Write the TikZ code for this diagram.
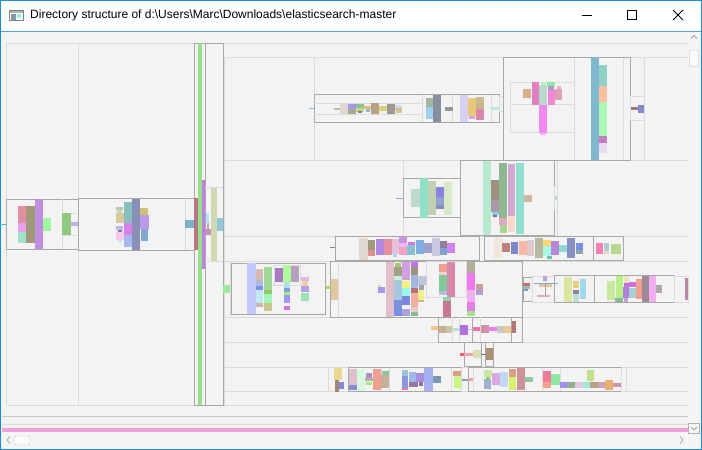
\documentclass[tikz,border=0pt]{standalone}
\usepackage{fontspec}
\setmainfont{Liberation Sans}
\definecolor{boxgray}{HTML}{A8A8A8}
\definecolor{linegray}{HTML}{DCDCDC}
\definecolor{winblue}{HTML}{1C8AD6}
\definecolor{clientbg}{HTML}{F3F3F3}
\definecolor{pinkbar}{HTML}{F0A0DC}
\begin{document}
\begin{tikzpicture}[
    x=1pt, y=-1pt,
    frame/.style={draw=boxgray, line width=1pt},
    faint/.style={draw=linegray, line width=0.8pt},
    glyph/.style={draw=black, line width=0.9pt}
]
\useasboundingbox (0,0) rectangle (702,450);

% Window
\fill[clientbg] (0,0) rectangle (702,450);
\fill[white] (0,0) rectangle (702,30.5);
\draw[winblue, line width=1pt] (0.5,0.5) rectangle (701.5,449.5);
\draw[winblue!80, line width=1pt] (1,31) -- (701,31);

% Title bar
\draw[gray, fill=white] (9.5,10.5) rectangle (23.5,20.5);
\fill[gray!60] (10,11) rectangle (23,13);
\fill[black!70!cyan!60] (11,13.5) rectangle (16,19.5);
\fill[green!45!cyan!45] (17,13.5) rectangle (21,18);
\node[anchor=west, font=\fontsize{12}{14}\selectfont, inner sep=0pt] (title) at (30,15.5)
  {Directory structure of d:\textbackslash Users\textbackslash Marc\textbackslash Downloads\textbackslash elasticsearch-master};
\draw[glyph] (582,15.5) -- (592,15.5);
\draw[glyph] (627.5,10.5) rectangle (636.5,19.5);
\draw[glyph] (673,10) -- (683,20) (683,10) -- (673,20);

% Scrollbars
\fill[gray!8] (688,32) rectangle (701,432);
\fill[gray!8] (1,432) rectangle (701,448);
\draw[gray!70, line width=0.8pt] (691,38.5) -- (694,35.5) -- (697,38.5);
\draw[gray!55, fill=gray!3, rounded corners=2pt] (689.5,50) rectangle (698.5,66.5);
\draw[gray!60] (688.5,423.5) rectangle (699.5,433.5);
\draw[gray!70, line width=0.8pt] (691,427) -- (694,430) -- (697,427);
\draw[gray!70, line width=0.8pt] (10,436.5) -- (7,440) -- (10,443.5);
\draw[gray!55, fill=gray!3, rounded corners=2pt] (14,436) rectangle (30,445);
\draw[gray!70, line width=0.8pt] (680,436.5) -- (683,440) -- (680,443.5);

% Bottom strips
\draw[gray!45, line width=1.2pt] (2,416.7) -- (688,416.7);
\draw[linegray] (2,424.3) -- (688,424.3);
\fill[pinkbar] (2,427.8) rectangle (688,431.8);

% Grid lines
\draw[faint] (6.5,43) -- (688,43);
\draw[faint] (6.5,43) -- (6.5,405) (78,43) -- (78,405) (6.5,405) -- (688,405);
\draw[faint] (224,57) -- (224,405);
\foreach \yy in {57,160,236,261,317,342,367,391}
  \draw[faint] (224,\yy) -- (688,\yy);
\draw[faint] (314.3,57) -- (314.3,160) (574.3,57) -- (574.3,160)
  (623.3,57) -- (623.3,160) (644.3,57) -- (644.3,160);
\draw[faint] (403.3,160) -- (403.3,236) (557,160) -- (557,236);

% Boxes
\draw[frame] (194,43) rectangle (205,405);
\draw[frame] (205,43) rectangle (223,405);
\draw[faint] (205,187.3) -- (223,187.3) (205,261.5) -- (223,261.5);
\draw[frame] (6.7,199.3) rectangle (78.3,249.3);
\draw[faint] (62.3,199.3) -- (62.3,249.3);
\draw[faint] (62.3,213) rectangle (78.3,235);
\draw[frame] (78.3,198.3) rectangle (194,250);
\draw[faint] (185.3,198.3) -- (185.3,250);
\draw[frame] (314.3,94.3) rectangle (499.3,122);
\draw[faint] (314.3,103.3) -- (422.3,103.3) (314.3,114) -- (422.3,114);
\foreach \xx in {422.3,452.3,491.3}
  \draw[faint] (\xx,94.8) -- (\xx,121.5);
\draw[faint] (499.3,96) rectangle (503.3,111.7);
\draw[frame] (503.3,57.3) rectangle (630.3,160);
\draw[faint] (510.3,82.3) rectangle (574.3,132.3);
\draw[faint] (510.3,104) -- (574.3,104);
\draw[faint] (630.3,96) rectangle (644.3,120);
\draw[frame] (403.3,178.3) rectangle (460.3,217.7);
\draw[frame] (460.3,160) rectangle (554.3,235.3);
\draw[faint] (554.3,186) rectangle (557,210);
\draw[frame] (335.3,236.3) rectangle (479.3,260);
\draw[frame] (484.3,236.3) rectangle (593.3,260);
\draw[frame] (593.3,236.3) rectangle (623.3,260);
\draw[faint] (230,261) rectangle (330,317);
\draw[frame] (231,263.7) rectangle (325.7,314.3);
\draw[faint] (274,265) rectangle (300,285);
\draw[frame] (330.3,261) rectangle (522.7,317.3);
\draw[faint] (338.3,261) -- (338.3,317.3);
\draw[faint] (426.7,261.7) rectangle (466.7,297.3);
\draw[frame] (523.3,277.3) rectangle (532.7,301.3);
\draw[faint] (532.7,276) rectangle (554.3,302);
\draw[frame] (554.3,275.3) rectangle (594.3,302.3);
\draw[frame] (594.3,275.3) rectangle (674.7,302.3);
\draw[faint] (674.7,276) rectangle (688,302);
\draw[frame] (438.3,317.3) rectangle (472.3,342.3);
\draw[faint] (452.7,317.3) -- (452.7,342.3) (459.3,317.3) -- (459.3,342.3);
\draw[frame] (472.3,317.3) rectangle (511.3,342.3);
\draw[faint] (480,317.3) -- (480,342.3);
\draw[frame] (511.3,317.3) rectangle (522.7,342.3);
\draw[frame] (464,342.3) rectangle (481.7,366.7);
\draw[frame] (485.3,342.3) rectangle (493.7,366.7);
\draw[faint] (328.3,367.3) rectangle (348.3,391.7);
\draw[frame] (348.3,367.3) rectangle (461.7,391.7);
\foreach \xx in {381.7,389.3,451.7}
  \draw[faint] (\xx,367.8) -- (\xx,391.2);
\draw[faint] (461.7,367.3) rectangle (468.3,391.7);
\draw[frame] (468.3,367.3) rectangle (621.7,391.7);
\draw[faint] (621.7,367.3) rectangle (626,391.7);
\foreach \xx in {473.3,542.7,560}
  \draw[faint] (\xx,367.8) -- (\xx,391.2);

% Left blocks and stripes
\foreach \xa/\ya/\xb/\yb/\hex in {
  0/223.5/6/224.5/40C0D0, 18/206/26/223/E090A0, 18/223/26/232/E8A0F0,
  18/232/26/243/A0E0C8, 26/206/35/243/A09878, 35/199/43/249/C090E0,
  43/218/51/231/A0F8A0, 62/213/71/235/90C880, 71/222/78/226/C0B0E0,
  116/207/123/210/C8C0B8, 117/210/122/213/B0E8A0, 116/213/124/223/D8C8A0,
  116/226/123/230/C0B8E0, 118/230/122/233/9070C0, 116/232/124/240/F8C8E8,
  118/240/122/242/C0E8F0, 124/202/132/223/88C0C0, 124/223/132/235/D880E8,
  124/235/132/247/A8B8F0, 132/199/140/250/8890B8, 140/208/148/215/D0C078,
  140/215/149/229/C098E8, 141/229/148/241/80A8D0, 185/220/194/228/80B0C8,
  194/198/198/250/B07880, 198/43/202/405/98E088, 202/180/205/269/C07EE8,
  206/213/209/223/B0E8F8, 207/223/209/230/C8A890, 205/229/211/235/C090C0,
  211/188/217/261/D0D8B0, 217/218/223/231/90C8D8}
  {\definecolor{barcol}{HTML}{\hex}\fill[barcol] (\xa,\ya) rectangle (\xb,\yb);}

% Top row
\foreach \xa/\ya/\xb/\yb/\hex in {
  309/107.5/314/108.5/80B0E0, 334/108/340/110/B8C098, 340/103/348/114/E0D8D0,
  348/104/356/109/A898E8, 348/109/356/114/A8A890, 356/104/364/108/90C090,
  356/108/364/112/C8D890, 358/111/362/113/907090, 364/106/371/109/E8B888,
  366/109/370/112/80C0D0, 371/103/379/114/B8A080, 379/106/387/111/D8D078,
  387/104/395/114/A09890, 395/105/402/108/C8E0E8, 395/108/402/110/E8B0A0,
  396/110/402/113/D0C890, 426/98/433/107/A0B8A0, 426/107/433/119/A0D0F0,
  433/95/441/122/8890A0, 445/107/453/111/909898, 460/95/468/122/D8D0F0,
  468/98/476/116/E8C878, 469/116/475/119/D0A8E0, 476/97/484/109/C8B890,
  476/109/484/120/D888A8, 491/107/499/110/B8E8E0,
  523/89/531/98/D8B088, 532/82/539/105/E080C0, 539/85/547/105/B8D8C8,
  541/82/546/85/B8F0D0, 539/105/547/133/F088F0, 540/133/546/135/F8B0F8,
  547/82/555/86/90E8A8, 548/86/554/90/A898C8, 548/90/555/105/F088D8,
  555/89/562/100/E0A0B8, 557/86/561/89/E8B0C0, 591/57/599/160/80B8D0,
  599/65/607/86/90D0C8, 599/86/607/102/F8C0A0, 599/102/607/136/A8F8B8,
  599/136/607/143/C080C0, 599/143/607/153/E8D8F0, 631/107/639/110/A07888,
  638/105/644/113/8888D0}
  {\definecolor{barcol}{HTML}{\hex}\fill[barcol] (\xa,\ya) rectangle (\xb,\yb);}

% Middle row
\foreach \xa/\ya/\xb/\yb/\hex in {
  396/197.5/403/198.5/A0A0F0, 411/189/420/207/C0D8D0, 420/178/428/218/90E0C8,
  428/181/436/215/C0D0B0, 436/187/444/197/8880E0, 436/197/444/205/90A0D0,
  436/205/444/209/8890B8, 444/182/452/215/D8E8C8, 483/161/491/235/B8E8D0,
  491/180/499/200/A09080, 491/200/499/212/A898A8, 492/212/499/215/90C8E8,
  493/215/497/217/707070, 499/163/507/218/90B890, 499/218/507/225/E0A8C0,
  500/225/507/233/A8D890, 508/164/515/216/D0A8D0, 508/216/515/232/F8D8C8,
  516/163/524/234/90E0D0, 524/195/532/202/D0B8A0, 555/196/557/200/A8E0C8,
  330/246.5/335/247.5/B070A0, 359/238/368/260/E0D8D0, 368/240/375/250/A09878,
  368/250/375/256/E09090, 376/239/384/255/B088E0, 384/239/392/255/E090A0,
  392/239/399/254/E8C0D8, 393/254/397/257/A8D0F8, 399/237/407/243/C890E0,
  399/243/407/247/E8B8F0, 399/247/407/255/F8A0C8, 408/242/415/245/E070E8,
  407/245/415/255/88C0D0, 416/240/424/254/80B0E0, 424/243/432/253/A0A0D0,
  432/238/440/256/C8C8E0, 440/241/447/248/908098, 440/248/447/255/80A0D0,
  447/243/455/253/D080F0, 494/238/502/258/F0E8D8, 502/243/510/252/C08080,
  511/242/518/254/7888C8, 519/241/527/255/F8B8A8, 527/240/534/256/E0C8D0,
  535/238/543/258/B8B8A0, 543/240/551/246/F8D870, 543/246/551/256/A8F8E8,
  547/256/552/259/70C0B0, 551/241/559/255/B888D8, 559/245/567/252/90D8D0,
  567/238/575/258/8890C8, 576/243/583/250/7890E0, 576/250/583/254/88A8A8,
  596/243/603/254/F080B0, 604/243/609/251/B0C8D8, 604/251/609/254/E8D8C0,
  611/244/621/254/B8D890}
  {\definecolor{barcol}{HTML}{\hex}\fill[barcol] (\xa,\ya) rectangle (\xb,\yb);}

% Lower row
\foreach \xa/\ya/\xb/\yb/\hex in {
  223/285/230/293/A0E8A0, 247/263/256/314/C0C8F8, 256/269/263/280/D8B8B0,
  256/280/263/286/B0B8D8, 256/286/263/290/7890F0, 256/290/263/303/C0E8F0,
  256/303/263/307/D0B0B0, 264/267/272/290/A0D898, 264/290/272/294/90C870,
  264/294/272/303/A0F8B8, 264/303/272/311/C8C890, 275/268/283/282/A878C0,
  283/265/291/283/B0F8A0, 284/283/290/288/B0E0F0, 284/288/290/292/80A0E0,
  284/292/290/295/A0F080, 284/295/290/303/A098F0, 284/306/290/310/D870E8,
  291/266/299/282/B8A0C0, 301/277/309/281/E0B8E8, 302/281/308/286/F0D0A0,
  301/286/309/292/B0A0E8, 301/293/309/301/A0E0B8, 326/286/331/289/A8D870,
  331/279/338/300/E0C8A0, 378/287/385/293/A898F0, 378/285/381/287/C8E890,
  386/262/394/317/E0C0C8, 395/263/401/267/A8C870, 394/267/402/276/A0A088,
  394/276/402/280/C8F0D8, 394/280/402/300/A8C8E0, 394/300/402/316/7890E0,
  402/262/410/280/D0A0E0, 402/281/410/288/F0F080, 402/288/410/296/98F8F0,
  402/296/410/305/7888E0, 402/309/410/316/B0A0E0, 411/262/418/267/C070F0,
  411/267/418/275/A09080, 411/275/418/288/A0B8E0, 411/288/418/293/B87070,
  411/293/418/307/F0B0A0, 411/307/418/312/E8C8D8, 411/312/418/316/80C080,
  418/276/427/285/C0C8D8, 419/285/424/290/A0A0B8, 418/290/424/300/F0F088,
  418/300/424/302/D0B888, 439/264/447/272/F0A090, 439/272/447/275/F0D0D8,
  439/275/447/291/80C898, 439/291/447/295/B8B8E0, 447/262/455/297/D888A8,
  443/297/451/301/88D8B0, 443/301/451/317/C87890, 467/262/475/273/B0B098,
  467/273/475/290/F078F0, 467/290/475/302/F0B0F0, 467/302/475/311/E080E0,
  467/311/475/316/A8E090, 476/284/483/290/C8A0A0, 476/290/483/295/A8A0D8,
  523/283/530/286/C87070, 523/286/530/289/90B8C0, 523/289/528/291/78A0A0,
  539/284/552/287/E8C898, 534/282.5/558/283.5/80B0D0, 544.5/283/545.5/296/A0A0A0,
  537/295/550/297/E0A8C8, 543/276/547/281/B8A0E0, 564/277/572/302/D8E8A0,
  573/281/579/288/E8D080, 573/290/579/294/9880A0, 573/294/579/302/B8E0D0,
  580/279/586/299/A0D8F0, 607/281/615/300/C8E8A0, 616/276/623/298/B8F088,
  615/298/623/302/88B8A0, 624/276/629/285/F0E0C0, 624/283/630/287/C070E0,
  623/287/629/298/B080D8, 624/298/628/302/C0A0D0, 629/282/636/287/D070E0,
  629/288/637/298/A8D0D0, 636/279/642/299/F0A090, 642/276/649/302/A08898,
  649/276/656/302/F0B0F0, 656/285/662/293/B0A8A8, 685/278/688/300/B888A8}
  {\definecolor{barcol}{HTML}{\hex}\fill[barcol] (\xa,\ya) rectangle (\xb,\yb);}

% Bottom rows
\foreach \xa/\ya/\xb/\yb/\hex in {
  431/326/438/330/F8C090, 439/326/446/333/C8B090, 446/326/452/333/C8C8A8,
  453/328/460/331/A8E8C8, 460/325/468/335/B070E0, 468/329/473/330/A8D8B0,
  473/327/480/331/F070B0, 481/325/489/333/D090A8, 489/327/497/331/F080F0,
  497/326/504/333/C8C8C0, 504/326/511/333/F0C898, 512/321/516/333/B07878,
  460/353/464/356/F06070, 464/353/473/356/F0A0A8, 473/350/481/358/D8E0B0,
  481/354/486/355/6080C0, 486/348/493/360/A89070,
  334/368/342/380/E8D890, 335/380/339/392/A08878, 339/382/344/389/8888D8,
  349/369/357/385/E0C0C8, 349/385/357/390/8090D0, 357/369/365/391/D8F8E0,
  366/373/372/380/B090C0, 365/378/373/381/C0A8B0, 366/382/372/385/A8F070,
  373/369/381/390/F0A090, 382/371/389/375/88C8A0, 381/375/389/388/C8B098,
  402/370/408/376/A0C0D0, 402/376/408/388/8898D8, 402/388/408/390/F070B0,
  409/372/416/382/A0B8E8, 409/382/418/387/9878A0, 416/373/424/382/A890E0,
  419/382/423/386/907098, 424/368/433/391/A8B0F0, 433/376/441/383/7898B0,
  453/371/461/376/D8A080, 454/376/461/388/C8F880, 462/379/468/381/8898C0,
  468/378/473/381/E8A8A8, 484/370/492/377/C8E8A0, 486/377/490/380/88D860,
  484/379/491/389/A0B0D0, 492/373/500/385/D8A8E0, 500/372/508/387/C0D8F0,
  509/369/516/377/D8A080, 509/377/516/390/D8F070, 517/368/525/390/D09098,
  525/377/533/382/90C8A8, 543/371/551/382/F07898, 543/382/551/388/F8A090,
  551/374/560/385/90E8A0, 560/382/567/388/A090F0, 567/382/575/388/90B090,
  575/382/583/388/E0C8E0, 583/382/590/388/A0E8D8, 590/382/598/388/B8A080,
  598/382/605/388/C8A8B8, 605/380/613/390/E8B070, 613/383/621/387/D090A8,
  587/370/594/381/C0E090}
  {\definecolor{barcol}{HTML}{\hex}\fill[barcol] (\xa,\ya) rectangle (\xb,\yb);}

\end{tikzpicture}
\end{document}
